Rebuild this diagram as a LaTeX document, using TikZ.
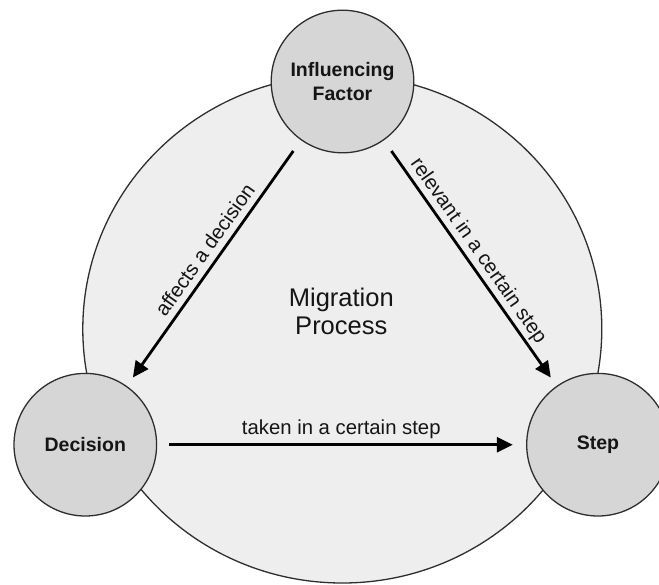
\documentclass[tikz,border=0pt]{standalone}
\usepackage{fontspec}
\setmainfont{Liberation Sans}
\usetikzlibrary{arrows.meta,shapes.geometric}
\definecolor{procfill}{HTML}{EEEEEE}
\definecolor{entfill}{HTML}{D6D6D6}
\definecolor{edgecol}{HTML}{2E2E2E}
\definecolor{txt}{HTML}{151515}
\begin{document}
\begin{tikzpicture}[x=1pt,y=1pt,
  procshape/.style={ellipse, draw=edgecol, line width=1.3pt, fill=procfill, inner sep=0pt, outer sep=0pt, minimum width=519pt, minimum height=508pt},
  ent/.style={circle, draw=edgecol, line width=1.3pt, fill=entfill, minimum size=142.6pt, inner sep=0pt, outer sep=0pt, font=\fontsize{19.5}{23.4}\selectfont\bfseries, align=center, text=txt},
  rel/.style={-{Triangle[length=16pt,width=15pt]}, line width=2.8pt, black},
  lbl/.style={font=\fontsize{20.3}{23}\selectfont, text=txt, inner sep=0pt, sloped, anchor=base},
  titletext/.style={font=\fontsize{25.5}{28}\selectfont, align=center, text=txt}
]
\useasboundingbox (0,0) rectangle (659,-584);
\node[procshape] (proc) at (342.3,-329) {};
\node[titletext] (ptitle) at (341.3,-311) {Migration\\Process};
\node[ent] (if) at (342.5,-81.5) {Influencing\\Factor};
\node[ent] (dec) at (85.3,-444.7) {Decision};
\node[ent] (step) at (598,-444.7) {Step};
\draw[rel, shorten <=13.8pt, shorten >=11pt] (if) -- (dec)
  node[lbl, pos=0.481, yshift=8pt] {affects a decision};
\draw[rel, shorten <=13.7pt, shorten >=10.8pt] (if) -- (step)
  node[lbl, pos=0.482, yshift=8pt] {relevant in a certain step};
\draw[rel, shorten <=12.8pt, shorten >=13.9pt] (dec) -- (step)
  node[lbl, pos=0.499, yshift=10pt] {taken in a certain step};
\end{tikzpicture}
\end{document}
